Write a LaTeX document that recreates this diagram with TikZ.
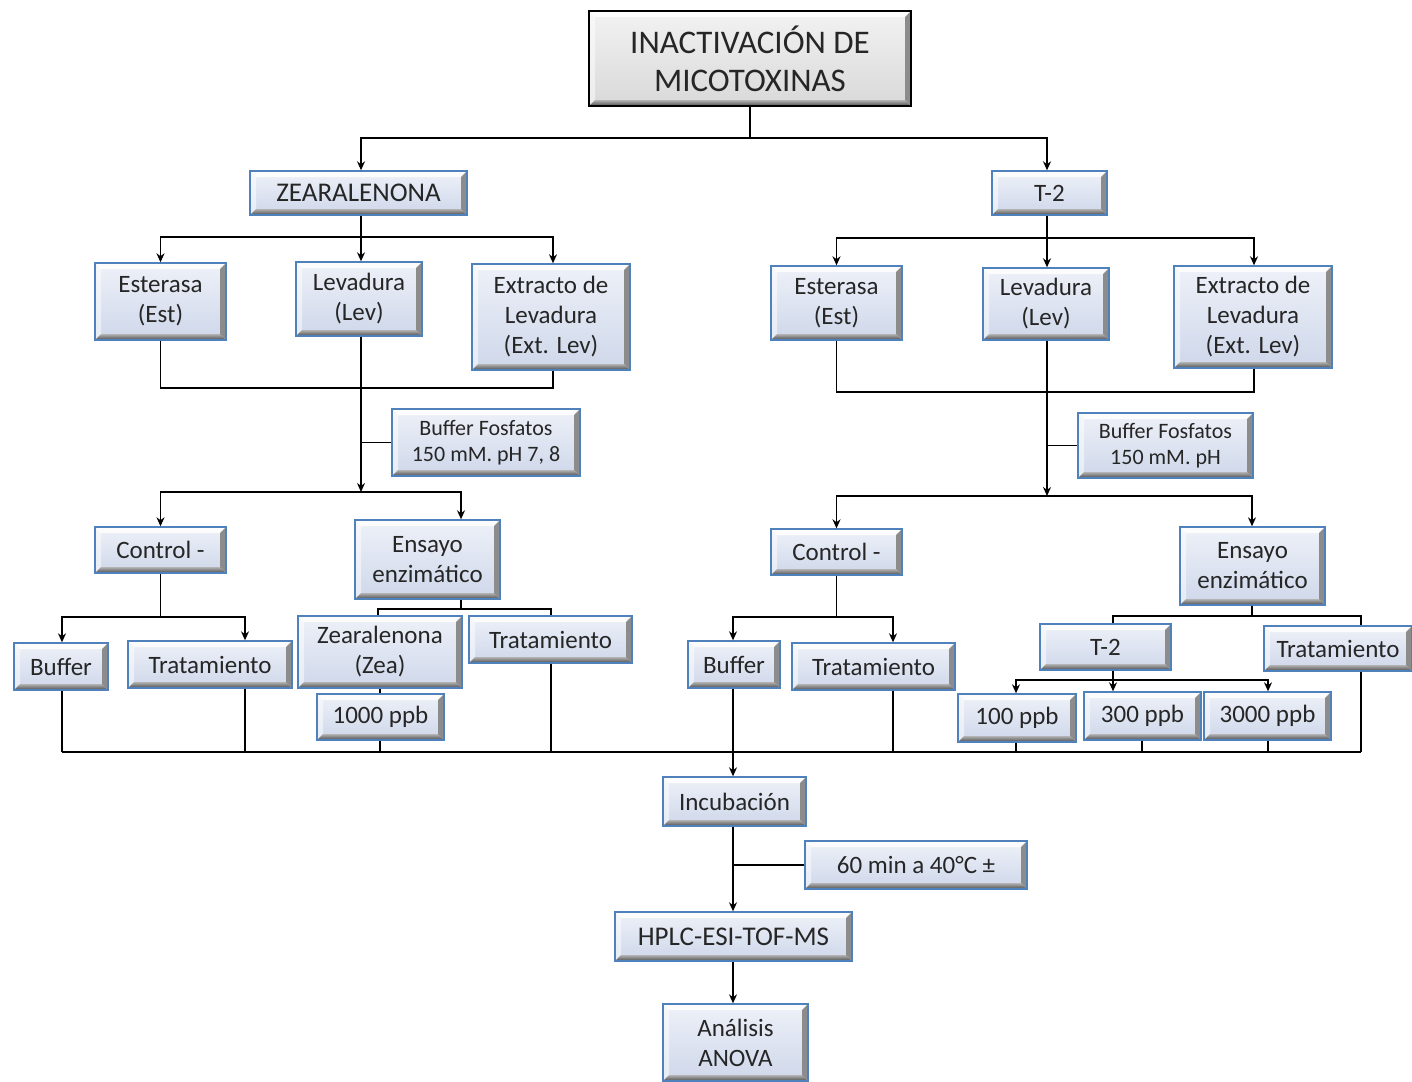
\documentclass[tikz,border=0pt]{standalone}
\usepackage{fontspec}
\setmainfont{Carlito}
\usetikzlibrary{arrows.meta}
\definecolor{bxblue}{HTML}{4F81BD}
\definecolor{bxfillT}{HTML}{EEF1F8}
\definecolor{bxfillB}{HTML}{CED7EA}
\tikzset{
  bevel/.style={path picture={
    \coordinate (ppsw) at (path picture bounding box.south west);
    \coordinate (ppne) at (path picture bounding box.north east);
    \coordinate (ppse) at (path picture bounding box.south east);
    \coordinate (ppnw) at (path picture bounding box.north west);
    \fill[white,opacity=.85] (ppnw) -- (ppne) -- ([shift={(-6pt,-6pt)}]ppne) -- ([shift={(6pt,-6pt)}]ppnw) -- cycle;
    \fill[white,opacity=.5] (ppnw) -- ([shift={(6pt,-6pt)}]ppnw) -- ([shift={(6pt,6pt)}]ppsw) -- (ppsw) -- cycle;
    \shade[top color=black!30, bottom color=black!70] (ppsw) -- ([shift={(6pt,6pt)}]ppsw) -- ([shift={(-6pt,6pt)}]ppse) -- (ppse) -- cycle;
    \fill[black!45] (ppse) -- ([shift={(-6pt,6pt)}]ppse) -- ([shift={(-6pt,-6pt)}]ppne) -- (ppne) -- cycle;
  }},
  box/.style={draw=bxblue, line width=1.4pt, top color=bxfillT, bottom color=bxfillB,
    bevel, inner sep=0pt, align=center, text=black!85, font=\fontsize{25}{30}\selectfont},
  topbox/.style={box, draw=black, line width=1.8pt, top color=black!5, bottom color=black!15,
    font=\fontsize{33}{38}\selectfont},
  small/.style={font=\fontsize{22}{26}\selectfont},
  caps/.style={font=\fontsize{27}{30}\selectfont},
  ln/.style={line width=1.4pt, black},
  arr/.style={ln, -{Stealth[length=9pt,width=8pt]}},
}
\newcommand\bx[7][]{\node[box,#1,minimum width={#4pt-#2pt},minimum height={#5pt-#3pt}] (#6) at ({(#2+#4)/2},{(#3+#5)/2}) {#7};}
\begin{document}
\begin{tikzpicture}[x=1pt,y=-1pt]
\useasboundingbox (0,0) rectangle (1412,1081);
% boxes
\bx[topbox]{589}{11}{911}{106}{top}{INACTIVACIÓN DE\\MICOTOXINAS}
\bx[caps]{250}{171}{467}{215}{zea}{ZEARALENONA}
\bx{992}{171}{1107}{215}{ttwo}{T-2}
\bx{95}{263}{226}{340}{lest}{Esterasa\\(Est)}
\bx{296}{262}{422}{336}{llev}{Levadura\\(Lev)}
\bx{472}{264}{630}{370}{lext}{Extracto de\\Levadura\\(Ext. Lev)}
\bx{771}{266}{902}{340}{rest}{Esterasa\\(Est)}
\bx{983}{268}{1109}{340}{rlev}{Levadura\\(Lev)}
\bx{1174}{266}{1332}{368}{rext}{Extracto de\\Levadura\\(Ext. Lev)}
\bx[small]{392}{409}{580}{476}{lbuf}{Buffer Fosfatos\\150 mM. pH 7, 8}
\bx[small]{1078}{413}{1253}{478}{rbuf}{Buffer Fosfatos\\150 mM. pH}
\bx{95}{527}{226}{573}{lctl}{Control -}
\bx{355}{520}{500}{599}{lens}{Ensayo\\enzimático}
\bx{771}{529}{902}{575}{rctl}{Control -}
\bx{1180}{527}{1325}{605}{rens}{Ensayo\\enzimático}
\bx{14}{643}{108}{690}{lbuff}{Buffer}
\bx{128}{641}{292}{688}{ltrat}{Tratamiento}
\bx{298}{616}{462}{688}{lzea}{Zearalenona\\(Zea)}
\bx{317}{694}{444}{740}{lppb}{1000 ppb}
\bx{469}{616}{632}{663}{ltratb}{Tratamiento}
\bx{688}{641}{780}{688}{rbuff}{Buffer}
\bx{792}{643}{955}{690}{rtrat}{Tratamiento}
\bx{1040}{624}{1171}{670}{rtt}{T-2}
\bx{1264}{626}{1412}{671}{rtratb}{Tratamiento}
\bx{958}{694}{1076}{742}{pa}{100 ppb}
\bx{1084}{692}{1201}{740}{pb}{300 ppb}
\bx{1204}{692}{1331}{740}{pc}{3000 ppb}
\bx{663}{777}{806}{826}{inc}{Incubación}
\bx{805}{841}{1027}{889}{cond}{60 min a 40°C ±}
\bx[caps]{615}{912}{852}{961}{hplc}{HPLC-ESI-TOF-MS}
\bx{663}{1004}{808}{1081}{anova}{Análisis\\ANOVA}
% top connectors
\coordinate (j0) at (750,138);
\draw[ln] (top.south) -- (j0);
\draw[arr] (j0) -| (zea.north -| 361,0);
\draw[arr] (j0) -| (ttwo.north -| 1047,0);
% left
\coordinate (j1) at (361,237);
\draw[ln] (zea.south -| 361,0) -- (j1);
\draw[arr] (j1) -| (lest.north);
\draw[arr] (j1) -- (llev.north -| 361,0);
\draw[arr] (j1) -| (lext.north -| 553,0);
\draw[ln] (lest.south) |- (553,388) -- (lext.south -| 553,0);
\coordinate (j2) at (361,492);
\draw[arr] (llev.south -| 361,0) -- (j2);
\draw[ln] (lbuf.west -| 361,0) -- (lbuf.west);
\draw[arr] (j2) -| (lctl.north);
\draw[arr] (j2) -| (lens.north -| 461,0);
\coordinate (j3) at (lctl.south |- 0,617);
\draw[ln] (lctl.south) -- (j3);
\draw[arr] (j3) -| (lbuff.north -| 62,0);
\draw[arr] (j3) -| (ltrat.north -| 245,0);
\coordinate (j4) at (461,609);
\draw[ln] (lens.south -| 461,0) -- (j4);
\draw[ln] (j4) -| (lzea.north -| 378,0);
\draw[ln] (j4) -| (ltratb.north -| 551,0);
\draw[ln] (lzea.south -| 380,0) -- (lppb.north -| 380,0);
% right
\coordinate (k1) at (1047,238);
\draw[ln] (ttwo.south -| 1047,0) -- (k1);
\draw[arr] (k1) -| (rest.north);
\draw[arr] (k1) -- (rlev.north -| 1047,0);
\draw[arr] (k1) -| (rext.north -| 1254,0);
\draw[ln] (rest.south) |- (1254,392) -- (rext.south -| 1254,0);
\coordinate (k2) at (1047,496);
\draw[arr] (rlev.south -| 1047,0) -- (k2);
\draw[ln] (rbuf.west -| 1047,0) -- (rbuf.west);
\draw[arr] (k2) -| (rctl.north);
\draw[arr] (k2) -| (rens.north -| 1252,0);
\coordinate (k3) at (rctl.south |- 0,617);
\draw[ln] (rctl.south) -- (k3);
\draw[arr] (k3) -| (rbuff.north -| 733,0);
\draw[arr] (k3) -| (rtrat.north -| 893,0);
\coordinate (k4) at (1252,616);
\draw[ln] (rens.south -| 1252,0) -- (k4);
\draw[ln] (k4) -| (rtt.north -| 1113,0);
\draw[ln] (k4) -| (rtratb.north -| 1361,0);
\coordinate (k5) at (1113,680);
\draw[ln] (rtt.south -| 1113,0) -- (k5);
\draw[arr] (k5) -| (pa.north -| 1016,0);
\draw[arr] (k5) -- (pb.north -| 1113,0);
\draw[arr] (k5) -| (pc.north -| 1268,0);
% bus
\draw[ln] (62,752) -- (1361,752);
\draw[ln] (lbuff.south -| 62,0) -- (62,752);
\draw[ln] (ltrat.south -| 245,0) -- (245,752);
\draw[ln] (lppb.south -| 380,0) -- (380,752);
\draw[ln] (ltratb.south -| 551,0) -- (551,752);
\draw[ln] (rtrat.south -| 893,0) -- (893,752);
\draw[ln] (pa.south -| 1016,0) -- (1016,752);
\draw[ln] (pb.south -| 1142,0) -- (1142,752);
\draw[ln] (pc.south -| 1268,0) -- (1268,752);
\draw[ln] (rtratb.south -| 1361,0) -- (1361,752);
\draw[arr] (rbuff.south -| 733,0) -- (inc.north -| 733,0);
% bottom chain
\draw[arr] (inc.south -| 733,0) -- (hplc.north -| 733,0);
\draw[ln] (cond.west -| 733,0) -- (cond.west);
\draw[arr] (hplc.south -| 733,0) -- (anova.north -| 733,0);
\end{tikzpicture}
\end{document}
